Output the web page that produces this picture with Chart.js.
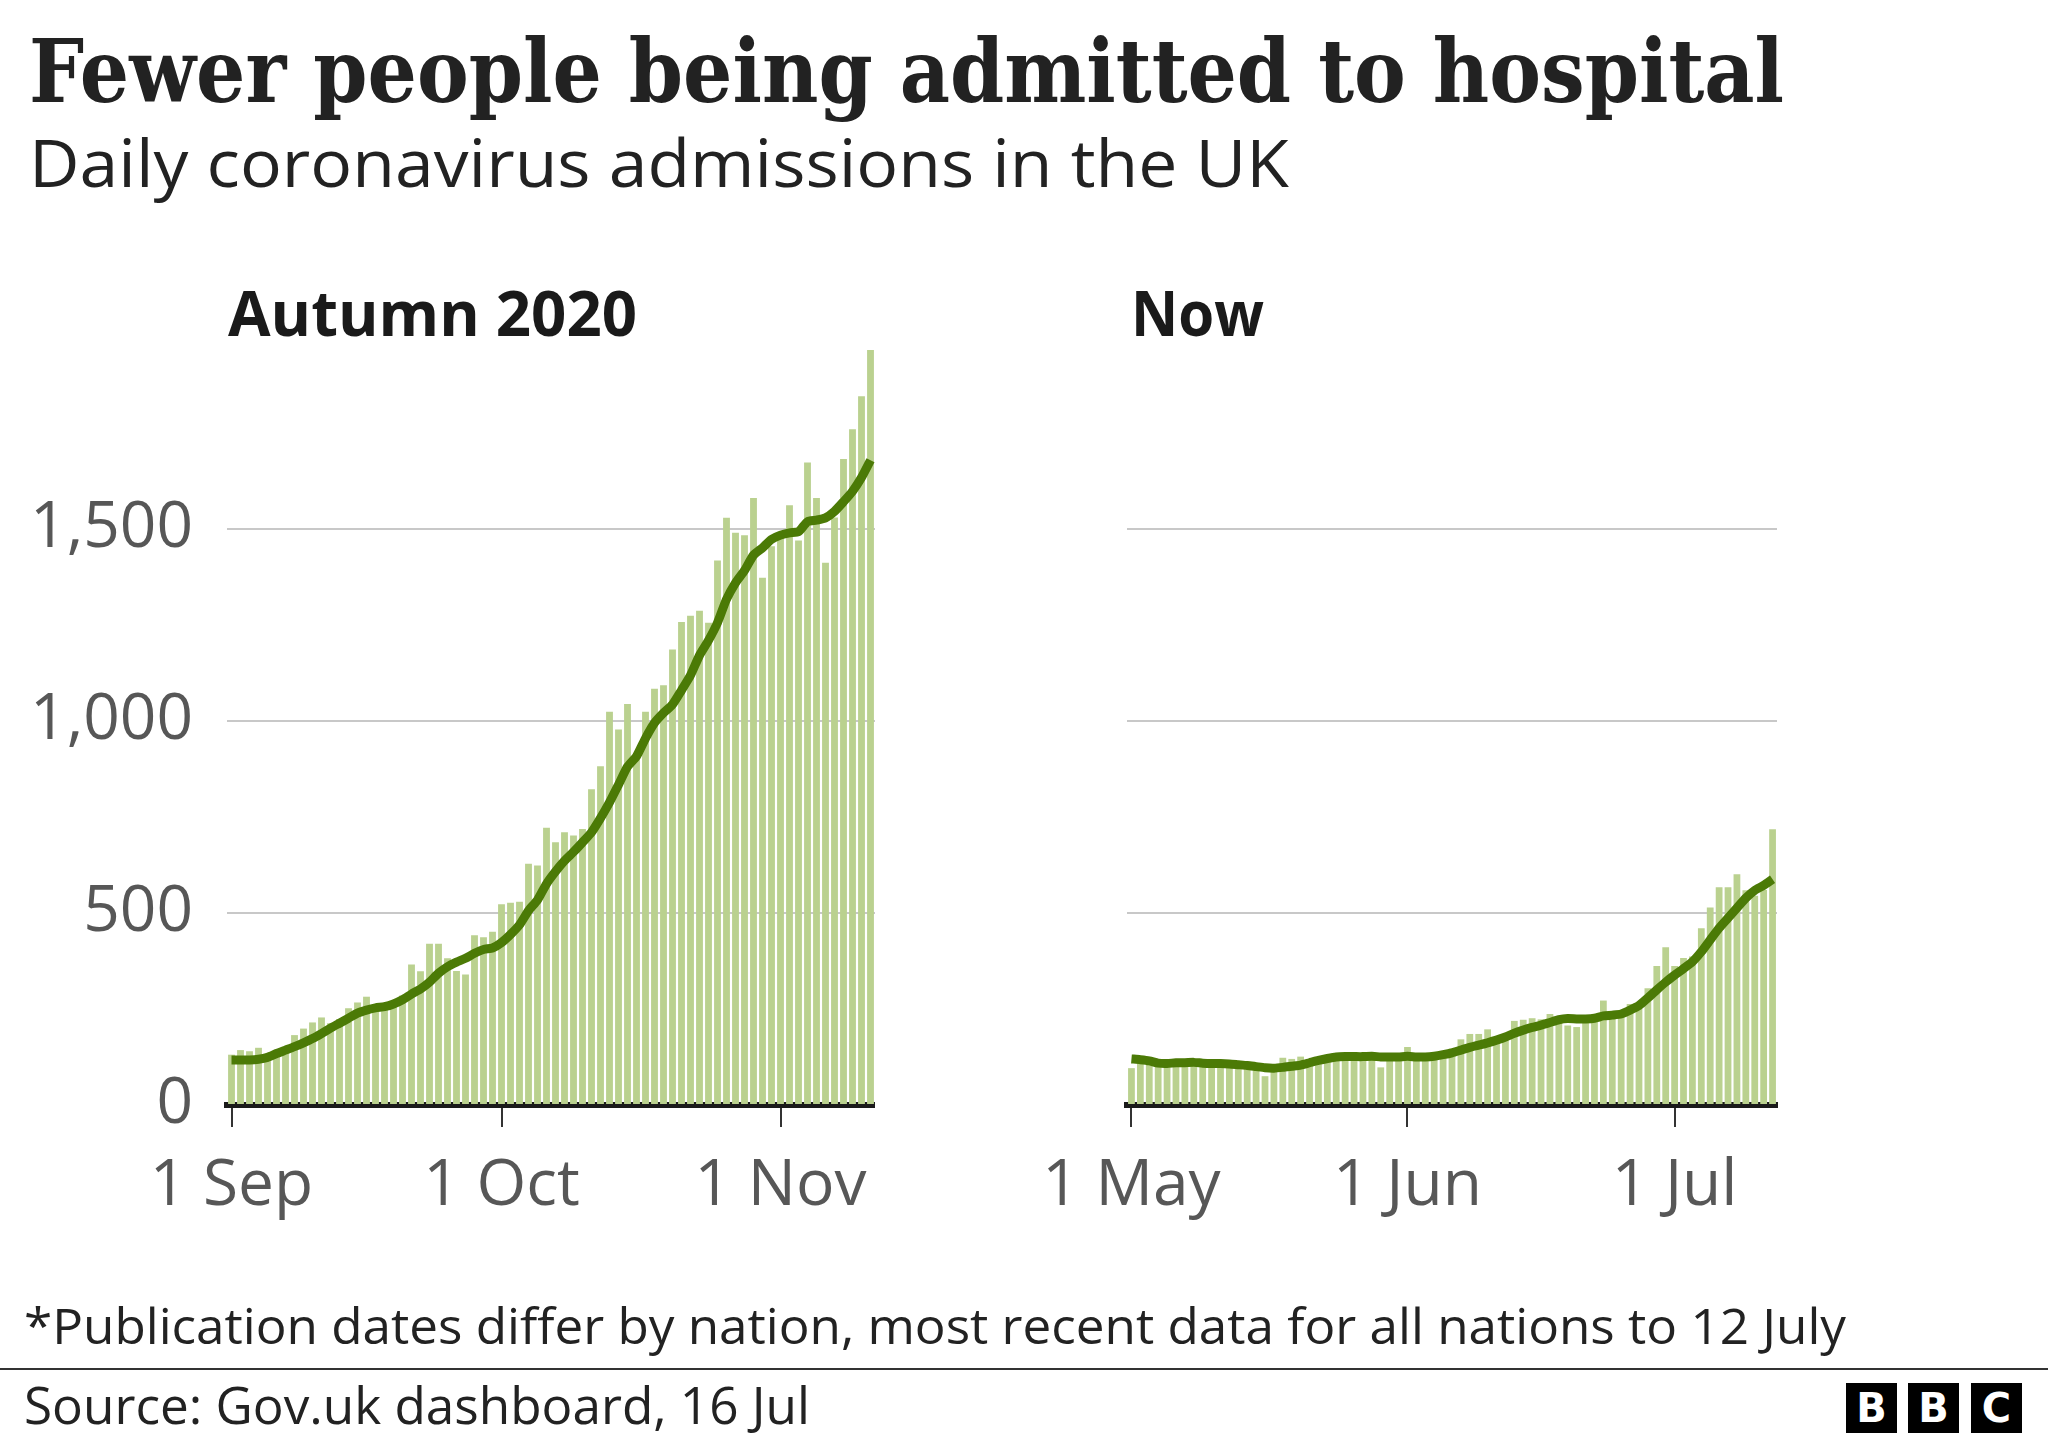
<!DOCTYPE html>
<html>
<head>
<meta charset="utf-8">
<script src="https://cdn.jsdelivr.net/npm/chart.js@4.4.0/dist/chart.umd.min.js"></script>
<style>
  html, body { margin:0; padding:0; background:#fff; }
  body { width:2048px; height:1440px; position:relative; overflow:hidden; }
  canvas { position:absolute; }
  .t { position:absolute; white-space:nowrap; line-height:1; transform-origin:0 0; }
  .rule { position:absolute; left:0; top:1368px; width:2048px; height:2px; background:#333; }
  .bbc { position:absolute; top:1383px; width:51px; height:50px; background:#000; color:#fff;
         font:bold 40px "DejaVu Sans"; display:flex; align-items:center; justify-content:center; }
</style>
</head>
<body>
<canvas id="left" width="875" height="960" style="left:0;top:300px"></canvas>
<canvas id="right" width="800" height="960" style="left:1027px;top:300px"></canvas>
<div class="rule"></div>
<div class="bbc" style="left:1846px">B</div>
<div class="bbc" style="left:1908px">B</div>
<div class="bbc" style="left:1971px">C</div>
<script>
// ---------- DATA ----------
const leftMonths = [['Sep', 30], ['Oct', 31], ['Nov', 11]];
const rightMonths = [['May', 31], ['Jun', 30], ['Jul', 12]];
const leftTickLabels = ['1 Sep', '1 Oct', '1 Nov'];
const rightTickLabels = ['1 May', '1 Jun', '1 Jul'];
const yTickValues = [0, 500, 1000, 1500];

const autumnDaily = [131,143,140,149,120,128,135,182,199,215,
  228,213,224,252,267,282,245,250,255,285,
  366,348,420,420,382,349,340,442,437,451,
  523,527,529,628,624,722,684,710,702,719,
  822,882,1024,978,1044,900,1024,1084,1093,1186,
  1258,1274,1287,1256,1418,1529,1490,1484,1581,1373,
  1455,1480,1562,1470,1673,1581,1412,1530,1682,1760,
  1846,1966];
const autumnAverage = [117,117,117,119,124,134,143,152,162,173,
  186,200,213,226,239,247,253,256,263,274,
  289,302,320,343,360,372,382,395,405,409,
  423,444,469,506,534,576,608,636,659,684,
  710,747,788,834,881,908,955,995,1021,1043,
  1080,1119,1171,1210,1256,1317,1360,1392,1432,1451,
  1473,1484,1490,1493,1519,1523,1529,1546,1571,1598,
  1634,1679];
const nowDaily = [96,112,110,105,108,108,110,108,106,108,
  106,106,104,104,102,75,95,123,120,126,
  108,115,120,125,126,127,127,127,98,125,
  126,151,125,125,128,135,147,171,185,185,
  197,165,170,219,222,226,223,237,218,207,
  203,225,228,272,228,235,263,255,304,362,
  411,362,383,387,460,514,567,567,601,559,
  545,560,718];
const nowAverage = [120,118,115,109,108,110,110,111,109,108,
  108,107,105,103,100,97,96,98,101,104,
  110,116,121,125,126,126,126,127,125,125,
  125,127,125,125,127,131,136,143,150,156,
  162,169,177,187,195,202,208,215,222,225,
  224,224,226,232,234,237,247,259,279,300,
  320,338,355,373,399,430,461,487,513,539,
  559,572,588];

function dayLabels(months) {
  const out = [];
  months.forEach(([m, n]) => { for (let d = 1; d <= n; d++) out.push(d + ' ' + m); });
  return out;
}
const leftCategories = dayLabels(leftMonths);
const rightCategories = dayLabels(rightMonths);

// ---------- STYLE ----------
const BAR = '#bad18f';
const LINE = '#4b7a06';
const GRID = '#c8c8c8';
const LABEL = '#575757';
const TICKFONT = { family: 'Open Sans', size: 64 };

function makeChart(id, categories, daily, avg, tickLabels, showY, canvasH, padLeft, padRight) {
  const axisBottom = 1105 - 300;
  new Chart(document.getElementById(id), {
    data: {
      labels: categories,
      datasets: [
        { type: 'line', data: avg, borderColor: LINE, borderWidth: 9, pointRadius: 0,
          tension: 0.2, borderJoinStyle: 'round', borderCapStyle: 'butt', order: 0 },
        { type: 'bar', data: daily, backgroundColor: BAR, barPercentage: 0.76,
          categoryPercentage: 1, order: 1 }
      ]
    },
    options: {
      responsive: false, animation: false, events: [],
      layout: { padding: { top: 37, left: padLeft, right: padRight, bottom: 0 } },
      plugins: { legend: { display: false }, tooltip: { enabled: false } },
      scales: {
        x: {
          type: 'category', offset: true,
          grid: { drawOnChartArea: false, drawTicks: true, tickLength: 22, tickColor: '#333',
                  lineWidth: 2, offset: false },
          border: { display: true, color: '#1a1a1a', width: 6 },
          ticks: { autoSkip: false, maxRotation: 0, minRotation: 0, color: LABEL, font: TICKFONT, padding: 21 },
          afterBuildTicks: (axis) => {
            axis.ticks = axis.ticks.filter(t => tickLabels.includes(categories[t.value]));
          },
          afterFit: (axis) => {
            axis.height = canvasH - axisBottom;
            axis.paddingLeft = 0; axis.paddingRight = 0;
          }
        },
        y: {
          min: 0, max: 2000,
          grid: { drawTicks: false, lineWidth: 2,
                  color: (ctx) => (ctx.tick && ctx.tick.value === 0) ? 'rgba(0,0,0,0)' : GRID },
          border: { display: false },
          ticks: { display: showY, color: LABEL, font: TICKFONT, padding: 34,
                   callback: (v) => v.toLocaleString('en-GB') },
          afterBuildTicks: (axis) => { axis.ticks = yTickValues.map(v => ({ value: v })); },
          afterFit: (axis) => {
            axis.width = showY ? 227 : 0;
            axis.paddingTop = 0; axis.paddingBottom = 0;
          }
        }
      }
    }
  });
}

makeChart('left', leftCategories, autumnDaily, autumnAverage, leftTickLabels, true, 960, 0, 0);
makeChart('right', rightCategories, nowDaily, nowAverage, rightTickLabels, false, 960, 100, 50);

// ---------- TEXT ----------
function place(text, x, baseline, width, size, family, weight, color) {
  const d = document.createElement('div');
  d.className = 't';
  d.style.font = `${weight} ${size}px ${family}`;
  d.style.color = color;
  d.textContent = text;
  const m = document.createElement('span');
  m.style.cssText = 'display:inline-block;width:0;height:0;vertical-align:baseline';
  d.appendChild(m);
  document.body.appendChild(d);
  const bl = m.offsetTop;
  const w = d.getBoundingClientRect().width;
  d.style.left = x + 'px';
  d.style.top = (baseline - bl) + 'px';
  d.style.transform = `scaleX(${width / w})`;
}
place('Fewer people being admitted to hospital', 29, 102, 1755, 88, '"DejaVu Serif"', 'bold', '#222');
place('Daily coronavirus admissions in the UK', 29, 187, 1260, 66, '"Open Sans"', 'normal', '#222');
place('Autumn 2020', 228, 336, 409, 63, '"Open Sans"', 'bold', '#1a1a1a');
place('Now', 1131, 336, 133, 63, '"Open Sans"', 'bold', '#1a1a1a');
place('*Publication dates differ by nation, most recent data for all nations to 12 July', 24, 1344, 1822, 50, '"Open Sans"', 'normal', '#222');
place('Source: Gov.uk dashboard, 16 Jul', 24, 1424, 786, 52, '"Open Sans"', 'normal', '#222');
</script>
</body>
</html>
